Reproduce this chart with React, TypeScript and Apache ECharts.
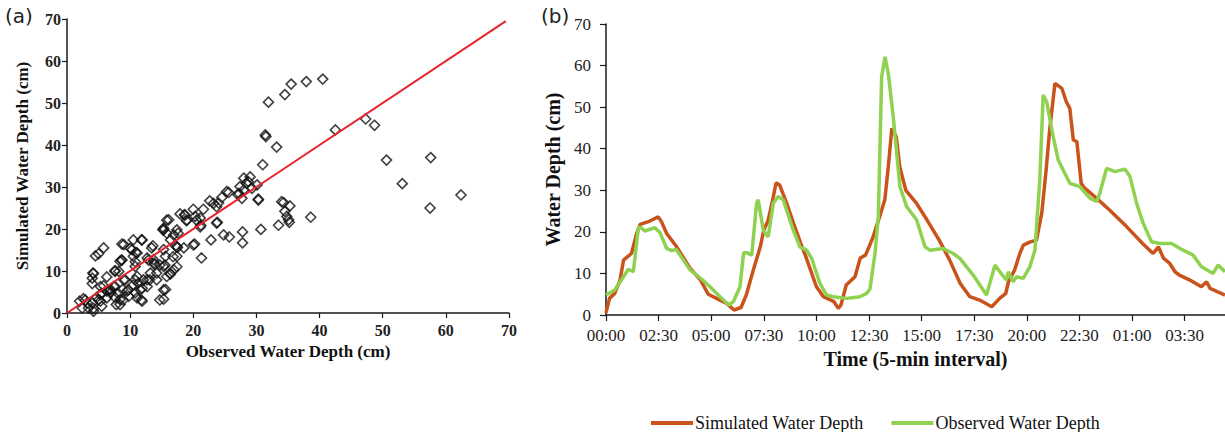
import React, { useEffect, useRef } from "react";
import * as echarts from "echarts";

// ---------- Panel (a): observed vs simulated scatter ----------
const scatterPoints: [number, number][] = [
  [31.9, 50.2], [34.5, 52], [35.5, 54.5], [37.9, 55.1], [40.5, 55.7], [31.4, 42.4], [31.5, 42.0], [33.2, 39.5],
  [31.0, 35.3], [42.5, 43.6], [47.3, 46.2], [48.7, 44.7], [50.6, 36.4], [53.1, 30.8], [57.6, 37.0], [57.5, 25],
  [62.4, 28.1], [38.6, 22.8], [33.5, 20.9], [34.3, 26.3], [35.3, 25.5], [34.5, 24.2], [34.8, 23], [35.1, 22.2],
  [35.2, 21.6], [30.3, 27.1], [30.7, 19.9], [30.1, 30.5], [29, 32.4], [28, 32.1], [27.4, 30.1], [27.2, 28.5],
  [28, 29.3], [28.7, 31.3], [25.6, 28.7], [24.5, 27.5], [24, 26.2], [22.6, 26.7], [21.6, 24.7], [20, 24.7],
  [20.3, 23], [21.1, 22.6], [18.6, 23.4], [17.9, 23.6], [18.9, 22], [21.2, 20.9], [23.8, 21.6], [24.8, 18.6],
  [25.7, 18.1], [22.8, 17.4], [27.8, 19.3], [27.8, 16.7], [20.2, 16.4], [21.3, 13.1], [18.5, 15.5], [17.4, 19.8],
  [16.9, 18.6], [16.1, 22.2], [15.3, 20.2], [15.8, 19], [15.2, 19.8], [16.4, 17.4], [17.2, 16], [15.3, 15.1],
  [15.6, 13.5], [15.3, 11.1], [15.8, 8.7], [15.6, 5.6], [15.3, 3.3], [17.4, 13.5], [16.9, 10.3], [16.4, 9.3],
  [14.2, 9.5], [14.2, 7.9], [13.7, 12.7], [13.4, 15.5], [12.7, 13.1], [12.1, 7.9], [12.7, 6.3], [11.9, 5.9],
  [11.9, 2.8], [11.9, 17.4], [10.5, 17.4], [11.1, 14.3], [10.3, 15.1], [10.5, 13.5], [10.8, 11.1], [11.1, 8.7],
  [11.3, 7.1], [10.5, 6.7], [9.5, 5.2], [10.8, 4.8], [11.1, 3.6], [9.8, 4], [9, 16.3], [8.4, 12.3],
  [8.2, 9.9], [9, 7.9], [8.8, 5.6], [8.4, 3.2], [7.6, 9.9], [7.4, 6.3], [7.8, 2], [8.4, 2],
  [5.8, 15.5], [5, 14.1], [4.5, 13.6], [4.2, 9.4], [4, 8.3], [4, 7], [5.3, 6.3], [5.8, 6.5],
  [6.3, 5.2], [6.9, 4.8], [6.3, 3.6], [4.7, 3.7], [5.3, 2.8], [5.5, 1.6], [4, 2.4], [3.4, 1.2],
  [2.6, 3.4], [2, 2.8], [2.4, 1.2], [4.2, 0.4], [3.2, 2.4], [7.6, 3.7], [13.2, 9.5], [13.9, 11.5],
  [12.7, 7.9], [5.3, 4.4], [6.9, 5.6], [28.4, 30.9], [29.3, 29.7], [27.1, 28.1], [27.7, 27.3], [25.3, 28.9],
  [23.2, 26.1], [23.7, 25.3], [18.7, 23.3], [19, 22.1], [20.5, 22.1], [21.1, 20.5], [23.7, 21.4], [20, 16.2],
  [17.5, 15.6], [30.3, 26.9], [34, 26.5], [8.7, 16.4], [10, 15.4], [10.9, 14.4], [8.6, 12.6], [7.6, 10.1],
  [4.1, 9.5], [8.7, 12.6], [11.8, 17.4], [13.6, 16], [14.7, 11.4], [13.8, 11.9], [15.5, 11.4], [16.3, 9.4],
  [17.4, 11], [13.1, 7.9], [10.8, 7.9], [11.6, 5.5], [9.7, 5.5], [8.1, 4.7], [6.8, 5.5], [5.5, 4.7],
  [6.3, 8.6], [7.6, 6.3], [8.9, 3.1], [11.8, 3.1], [15.3, 5.5], [14.7, 3.1], [16.8, 13.4], [17.4, 15.8],
  [17.6, 19], [15.8, 22.1], [15.3, 19.8], [10.8, 12.2], [12.9, 12.6], [9.2, 7.9], [5, 3.1], [2.9, 3.1],
  [4.2, 1.1],
];
const oneToOneLine: [number, number][] = [[0, 0], [69.5, 69.5]];

// ---------- Panel (b): time series (x = index of 5-min interval) ----------
const timeTickLabels = ["00:00", "02:30", "05:00", "07:30", "10:00", "12:30", "15:00", "17:30", "20:00", "22:30", "01:00", "03:30"];
const simulatedDepth: [number, number][] = [
  [0, 0.5], [2, 4], [5, 5.2], [8, 8.4], [10, 13.2], [14.5, 14.8], [17.5, 19.6], [19.5, 21.8], [25, 22.6], [29.8, 23.6],
  [31.7, 22.4], [34.6, 19.6], [40.3, 16.4], [48, 11.2], [53.6, 8.6], [58.3, 5], [63, 4], [68.8, 2.8], [73, 1.2], [77, 1.8],
  [80, 4.8], [84, 10.8], [88, 16.4], [90, 20.4], [92.5, 22.8], [95, 27.6], [97, 31.8], [99, 31.3], [103, 26.9], [107, 22],
  [111, 17.3], [114, 14], [120, 6.8], [124, 4.4], [130, 3.2], [132.5, 1.6], [134, 2.4], [137, 7.2], [142, 9.2], [145, 13.7],
  [148, 14.4], [152, 18.4], [156, 23.6], [159, 27.7], [161, 35.7], [163, 44.9], [165.5, 42.9], [167.5, 35.7], [171, 30], [177, 26.9],
  [183, 22.9], [190, 18], [196, 13.2], [202, 7.6], [207.5, 4.4], [213, 3.6], [220, 2], [224.5, 4], [228, 5.2], [229.5, 8],
  [233, 10.8], [236, 14.8], [238, 16.8], [242, 17.6], [245.5, 18], [248.5, 24.5], [251, 34.9], [253, 44.5], [256, 55.7], [260, 54.5],
  [262.5, 51.3], [264.5, 49.7], [266.5, 42.1], [268.5, 41.7], [271, 31.7], [273, 30.5], [280, 28], [287, 25.3], [297, 21.2], [306, 17.2],
  [312, 14.8], [315, 16.4], [318, 13.6], [321.5, 12.4], [324.5, 10.4], [327, 9.6], [333, 8.4], [339.5, 6.8], [342.5, 8], [344.5, 6.4],
  [353, 4.8],
];
const observedDepth: [number, number][] = [
  [0, 4.8], [5, 6], [10, 9.2], [12.7, 11], [15.6, 10.4], [18.4, 20.8], [19.4, 21.2], [22.2, 20.2], [27.9, 21], [30.8, 19.8],
  [34.6, 16], [37.5, 15.5], [40, 15.8], [48, 10.8], [54.6, 8.6], [60.3, 6.4], [65, 4.4], [70, 2.4], [72.6, 3.2], [76.4, 6.8],
  [78.5, 15], [80.2, 15], [83.1, 14.4], [85.9, 26.9], [86.8, 27.7], [89.7, 20.4], [92.5, 18.8], [95.4, 26.9], [98.2, 28.5], [101.1, 27.7],
  [106.8, 20.4], [110.6, 16.4], [114.4, 15.6], [117.3, 13.6], [122, 7.6], [125.8, 4.8], [129.6, 4.4], [137.2, 4], [144.8, 4.4], [148.6, 5.2],
  [150.5, 6.2], [153.4, 14.8], [155.3, 23.6], [157.2, 57.3], [159.1, 62.1], [161, 58.1], [163.8, 47.7], [167.6, 30.9], [171.4, 26.1], [177.1, 22.9],
  [181.9, 16.4], [184.7, 15.6], [192.3, 16], [198, 14.8], [201.8, 13.6], [209.4, 9.6], [217, 4.8], [221.8, 12], [224.6, 10.4], [228.4, 8.4],
  [229.4, 10.4], [232.2, 8], [234.1, 9.2], [237.9, 8.8], [241.7, 11.6], [244.6, 15.6], [247.4, 32.5], [249.3, 52.9], [251.3, 51.3], [255, 42.9],
  [257.9, 37.3], [260.7, 34.9], [264.5, 31.7], [270.2, 30.9], [275.9, 28.1], [279.8, 27.3], [281.6, 29.3], [285.5, 35.3], [290.2, 34.5], [295.9, 35.1],
  [298.8, 33.3], [302.6, 26.9], [306.3, 22.1], [311.1, 17.6], [315.9, 17.2], [322.5, 17.2], [329.1, 15.6], [334.8, 14.4], [339.6, 11.6], [346.2, 10],
  [349, 12], [353, 10.4],
];

const SERIF = "Liberation Serif";
const AXIS_COLOR = "#1a1a1a";

export default function App() {
  const ref = useRef<HTMLDivElement>(null);

  useEffect(() => {
    if (!ref.current) return;
    const chart = echarts.init(ref.current, undefined, { renderer: "svg" });
    const axisLine = { show: true, lineStyle: { color: AXIS_COLOR, width: 1.5 } };
    const axisTick = { show: true, inside: false, length: 5, lineStyle: { color: AXIS_COLOR, width: 1.2 } };
    const boldTick = { fontFamily: SERIF, fontWeight: "bold", fontSize: 16, color: "#222" };
    const plainTick = { fontFamily: SERIF, fontWeight: "normal", fontSize: 17, color: "#222" };

    chart.setOption({
      animation: false,
      backgroundColor: "#ffffff",
      textStyle: { fontFamily: SERIF },
      graphic: [
        { type: "text", left: 5, top: 6, style: { text: "(a)", font: "20px DejaVu Sans", fill: "#222" } },
        { type: "text", left: 541, top: 6, style: { text: "(b)", font: "20px DejaVu Sans", fill: "#222" } },
      ],
      legend: {
        left: 646,
        top: 409,
        icon: "rect",
        itemWidth: 42,
        itemHeight: 4,
        itemGap: 28,
        data: ["Simulated Water Depth", "Observed Water Depth"],
        textStyle: { fontFamily: SERIF, fontSize: 18, color: "#111", padding: [0, 0, 0, -3] },
      },
      grid: [
        { left: 67, top: 19, width: 442, height: 294 },
        { left: 606, top: 24, width: 619, height: 291 },
      ],
      xAxis: [
        {
          gridIndex: 0, type: "value", min: 0, max: 70, interval: 10,
          axisLine, axisTick, splitLine: { show: false },
          axisLabel: {
            margin: 9, ...boldTick,
            formatter: (v: number) => `{t|${v}}`, rich: { t: boldTick },
          },
          name: "Observed Water Depth (cm)", nameLocation: "middle", nameGap: 26,
          nameTextStyle: { fontFamily: SERIF, fontWeight: "bold", fontSize: 17, color: "#111" },
        },
        {
          gridIndex: 1, type: "value", min: 0, max: 353, interval: 30,
          axisLine, axisTick: { ...axisTick, length: 6 }, splitLine: { show: false },
          axisLabel: {
            margin: 12, ...plainTick, showMaxLabel: false,
            formatter: (v: number) => {
              const s = timeTickLabels[Math.round(v / 30)];
              return s ? `{t|${s}}` : "";
            },
            rich: { t: plainTick },
          },
          name: "Time (5-min interval)", nameLocation: "middle", nameGap: 30,
          nameTextStyle: { fontFamily: SERIF, fontWeight: "bold", fontSize: 20, color: "#111" },
        },
      ],
      yAxis: [
        {
          gridIndex: 0, type: "value", min: 0, max: 70, interval: 10,
          axisLine, axisTick, splitLine: { show: false },
          axisLabel: {
            margin: 6, ...boldTick,
            formatter: (v: number) => `{t|${v}}`, rich: { t: boldTick },
          },
          name: "Simulated Water Depth (cm)", nameLocation: "middle", nameGap: 36,
          nameTextStyle: { fontFamily: SERIF, fontWeight: "bold", fontSize: 17, color: "#111" },
        },
        {
          gridIndex: 1, type: "value", min: 0, max: 70, interval: 10,
          axisLine, axisTick: { ...axisTick, length: 6 }, splitLine: { show: false },
          axisLabel: {
            margin: 15, ...plainTick,
            formatter: (v: number) => `{t|${v}}`, rich: { t: plainTick },
          },
          name: "Water Depth (cm)", nameLocation: "middle", nameGap: 42,
          nameTextStyle: { fontFamily: SERIF, fontWeight: "bold", fontSize: 20, color: "#111" },
        },
      ],
      series: [
        {
          type: "line", xAxisIndex: 0, yAxisIndex: 0, data: oneToOneLine, symbol: "none",
          lineStyle: { color: "#e8232b", width: 2 }, z: 3, silent: true,
        },
        {
          type: "scatter", xAxisIndex: 0, yAxisIndex: 0, data: scatterPoints, symbol: "diamond", symbolSize: 10,
          itemStyle: { color: "rgba(255,255,255,0)", borderColor: "#111", borderWidth: 1.6 }, z: 2,
        },
        {
          name: "Simulated Water Depth", type: "line", xAxisIndex: 1, yAxisIndex: 1, data: simulatedDepth,
          symbol: "none", lineStyle: { color: "#c9531a", width: 3.5 }, itemStyle: { color: "#c9531a" },
        },
        {
          name: "Observed Water Depth", type: "line", xAxisIndex: 1, yAxisIndex: 1, data: observedDepth,
          symbol: "none", lineStyle: { color: "#8fd150", width: 3.5 }, itemStyle: { color: "#8fd150" },
        },
      ],
    });
    return () => chart.dispose();
  }, []);

  return (
    <div
      ref={ref}
      style={{ position: "fixed", left: 0, top: 0, width: 1225, height: 432, background: "#fff" }}
    />
  );
}
